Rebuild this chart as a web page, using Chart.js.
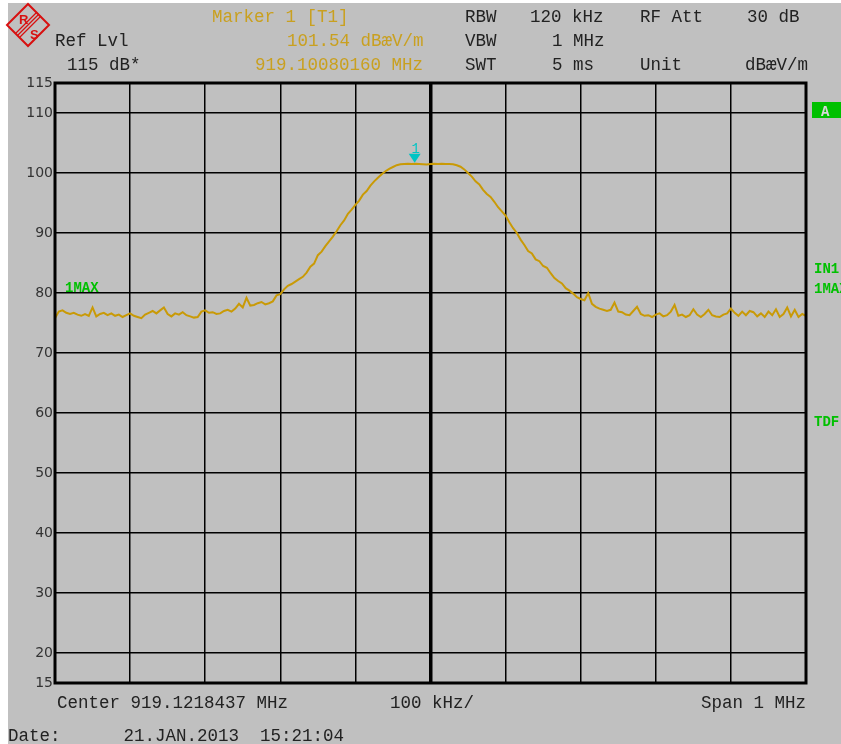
<!DOCTYPE html>
<html>
<head>
<meta charset="utf-8">
<script src="https://cdn.jsdelivr.net/npm/chart.js@4/dist/chart.umd.min.js"></script>
<style>
  html, body { margin: 0; padding: 0; background: #fff; }
  canvas { display: block; }
</style>
</head>
<body>
<canvas id="spectrum" width="841" height="744"></canvas>
<script>
/* -------------------------
   Spectrum trace, 1 MHz span around 919.1218437 MHz
   201 trace points, 5 kHz apart (offset from centre, kHz)
------------------------- */
const pointStepKHz = 5;
const startKHz = -500;

// trace level in dBuV/m
const traceLevels = [
  75.8, 76.9, 77.1, 76.7, 76.5, 76.7, 76.4, 76.2, 76.5, 76.2,
  77.6, 76.1, 76.5, 76.7, 76.3, 76.6, 76.2, 76.4, 76.0, 76.3,
  76.6, 76.2, 76.0, 75.8, 76.4, 76.7, 77.0, 76.6, 77.1, 77.6,
  76.5, 76.1, 76.6, 76.4, 76.8, 76.3, 76.1, 75.9, 76.0, 76.9,
  77.1, 76.7, 76.8, 76.5, 76.6, 77.0, 77.2, 76.9, 77.4, 78.2,
  77.6, 79.2, 77.9, 78.0, 78.3, 78.5, 78.1, 78.3, 78.6, 79.6,
  79.8, 80.6, 81.2, 81.5, 81.9, 82.3, 82.7, 83.4, 84.4, 84.9,
  86.3, 86.9, 87.8, 88.6, 89.4, 90.3, 91.3, 92.1, 93.2, 93.9,
  94.7, 95.4, 96.4, 97.0, 97.9, 98.6, 99.2, 99.8, 100.3, 100.7,
  101.0, 101.3, 101.45, 101.5, 101.55, 101.5, 101.54, 101.5, 101.45, 101.4,
  101.5, 101.55, 101.5, 101.55, 101.5, 101.5, 101.45, 101.3, 101.05, 100.6,
  100.0, 99.4, 98.6, 98.1, 97.2, 96.5, 96.0, 95.2, 94.3, 93.6,
  92.9, 91.8, 90.8, 90.0, 88.9, 88.0, 87.0, 86.6, 85.6, 85.3,
  84.5, 84.2, 83.3, 82.5, 82.0, 81.6, 80.8, 80.4, 79.9, 79.3,
  79.0, 78.8, 80.0, 78.2, 77.7, 77.4, 77.2, 77.0, 77.2, 78.4,
  76.9, 76.8, 76.4, 76.3, 77.0, 77.7, 76.5, 76.2, 76.3, 76.0,
  76.4, 76.6, 76.1, 76.3, 76.9, 78.0, 76.2, 76.4, 76.0, 76.3,
  77.3, 76.4, 76.0, 76.5, 77.2, 76.3, 76.1, 76.0, 76.4, 76.6,
  77.4, 76.7, 76.2, 76.9, 76.3, 77.0, 76.8, 76.1, 76.6, 76.0,
  76.9, 76.3, 77.3, 76.0, 76.5, 77.6, 76.1, 77.2, 76.0, 76.5,
  76.2
];

const yTicks = [115, 110, 100, 90, 80, 70, 60, 50, 40, 30, 20, 15];
const xGrid = [-500, -400, -300, -200, -100, 0, 100, 200, 300, 400, 500];

// marker 1 : 919.10080160 MHz, 101.54 dB
const markerKHz = -21.04;
const markerLevel = 101.54;

const tracePoints = traceLevels.map((v, i) => ({ x: startKHz + i * pointStepKHz, y: v }));

const GOLD = '#c9a020';
const GREEN = '#00c000';
const MONO = '"Liberation Mono", "DejaVu Sans Mono", monospace';

const screenPlugin = {
  id: 'screen',
  beforeDraw(chart) {
    const c = chart.ctx;
    c.save();
    c.fillStyle = '#ffffff';
    c.fillRect(0, 0, chart.width, chart.height);
    c.fillStyle = '#c0c0c0';
    c.fillRect(8, 3, chart.width - 8, chart.height - 3);
    c.restore();
  },
  afterDraw(chart) {
    const c = chart.ctx;
    const a = chart.chartArea;
    const xs = chart.scales.x, ys = chart.scales.y;
    c.save();

    // frame
    c.strokeStyle = '#000';
    c.lineWidth = 3;
    c.strokeRect(a.left, a.top, a.right - a.left, a.bottom - a.top);

    // marker triangle
    const mx = xs.getPixelForValue(markerKHz);
    const my = ys.getPixelForValue(markerLevel) - 1;
    c.fillStyle = '#00c4c4';
    c.beginPath();
    c.moveTo(mx - 6, my - 9);
    c.lineTo(mx + 6, my - 9);
    c.lineTo(mx, my);
    c.closePath();
    c.fill();
    c.font = '14px ' + MONO;
    c.textAlign = 'center';
    c.fillText('1', mx + 1, my - 10);

    // header
    c.textAlign = 'left';
    c.textBaseline = 'alphabetic';
    c.font = '17.5px ' + MONO;
    c.fillStyle = '#222';
    c.fillText('Ref Lvl', 55, 46);
    c.fillText('115 dB*', 67, 70);
    c.fillStyle = GOLD;
    c.fillText('Marker 1 [T1]', 212, 22);
    c.fillText('101.54 dBæV/m', 287, 46);
    c.fillText('919.10080160 MHz', 255, 70);

    c.save();
    c.beginPath();
    c.rect(0, 0, 808, 80);
    c.clip();
    c.fillStyle = '#222';
    c.fillText('RBW', 465, 22);
    c.fillText('120 kHz', 530, 22);
    c.fillText('RF Att', 640, 22);
    c.fillText('30 dB', 747, 22);
    c.fillText('VBW', 465, 46);
    c.fillText('1 MHz', 552, 46);
    c.fillText('SWT', 465, 70);
    c.fillText('5 ms', 552, 70);
    c.fillText('Unit', 640, 70);
    c.fillText('dBæV/m', 745, 70);
    c.restore();

    // footer
    c.fillStyle = '#222';
    c.fillText('Center 919.1218437 MHz', 57, 708);
    c.fillText('100 kHz/', 390, 708);
    c.textAlign = 'right';
    c.fillText('Span 1 MHz', 806, 708);
    c.textAlign = 'left';
    c.fillText('Date:      21.JAN.2013  15:21:04', 8, 741);

    // side labels
    c.font = 'bold 14px ' + MONO;
    c.fillStyle = GREEN;
    c.fillText('1MAX', 65, 292);
    c.fillText('IN1', 814, 273);
    c.fillText('1MAX', 814, 293);
    c.fillText('TDF', 814, 426);
    c.fillRect(812, 102, 29, 16);
    c.fillStyle = '#d8d8d8';
    c.fillText('A', 821, 116);

    // R&S logo
    c.strokeStyle = '#d81010';
    c.fillStyle = '#d81010';
    c.lineWidth = 2;
    c.beginPath();
    c.moveTo(28, 4);
    c.lineTo(49, 25);
    c.lineTo(28, 46);
    c.lineTo(7, 25);
    c.closePath();
    c.stroke();
    c.lineWidth = 1.2;
    for (let k = -2; k <= 2; k += 2) {
      c.beginPath();
      c.moveTo(39 + k, 14 + k);
      c.lineTo(18 + k, 35 + k);
      c.stroke();
    }
    c.font = 'bold 13px "Liberation Sans", sans-serif';
    c.fillText('R', 19, 24);
    c.fillText('S', 30, 39);

    c.restore();
  }
};

new Chart(document.getElementById('spectrum'), {
  type: 'line',
  data: {
    datasets: [{
      label: '1MAX',
      data: tracePoints,
      borderColor: '#c99a06',
      borderWidth: 2,
      pointRadius: 0,
      tension: 0,
      fill: false
    }]
  },
  options: {
    responsive: false,
    animation: false,
    devicePixelRatio: 1,
    layout: { padding: { left: 0, right: 35, top: 83, bottom: 61 } },
    scales: {
      x: {
        type: 'linear',
        min: -500,
        max: 500,
        afterBuildTicks: ax => { ax.ticks = xGrid.map(v => ({ value: v })); },
        afterFit: ax => { ax.height = 0; },
        ticks: { display: false },
        border: { display: false },
        grid: {
          color: '#000',
          lineWidth: ctx => (ctx.tick && ctx.tick.value === 0 ? 3.5 : 1.5),
          drawTicks: false
        }
      },
      y: {
        min: 15,
        max: 115,
        afterBuildTicks: ax => { ax.ticks = yTicks.map(v => ({ value: v })); },
        afterFit: ax => { ax.width = 55; },
        ticks: {
          color: '#333',
          padding: 2,
          font: { family: '"DejaVu Sans", sans-serif', size: 14 }
        },
        border: { display: false },
        grid: { color: '#000', lineWidth: 1.5, drawTicks: false }
      }
    },
    plugins: {
      legend: { display: false },
      tooltip: { enabled: false }
    }
  },
  plugins: [screenPlugin]
});
</script>
</body>
</html>
